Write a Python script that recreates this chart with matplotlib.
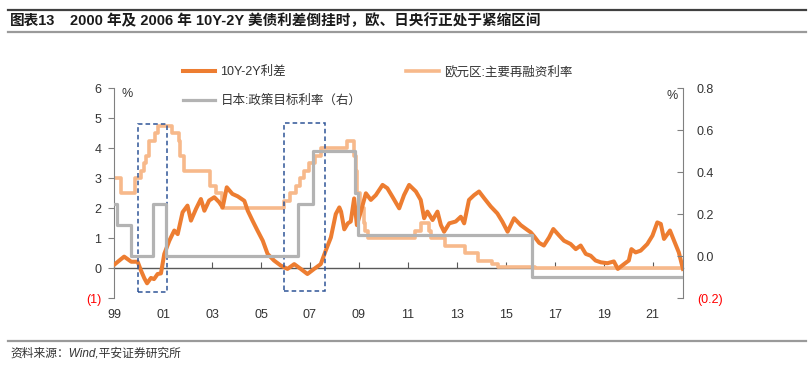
import pandas as pd
import matplotlib
matplotlib.use("Agg")
import matplotlib.pyplot as plt
import matplotlib.dates as mdates
from matplotlib.lines import Line2D
from matplotlib.patches import Rectangle

plt.rcParams['font.family'] = ['Liberation Sans', 'Noto Sans CJK SC']
plt.rcParams['axes.unicode_minus'] = False

# 美债 10Y-2Y 利差 (左轴, %)
spread_dates = [
    "1999-01-15", "1999-04-01", "1999-06-01", "1999-09-15", "1999-12-20",
    "2000-02-05", "2000-03-28", "2000-05-08", "2000-07-05", "2000-08-20",
    "2000-10-12", "2000-12-01", "2001-01-20", "2001-04-05", "2001-06-18",
    "2001-08-08", "2001-10-20", "2002-01-01", "2002-02-22", "2002-05-08",
    "2002-07-20", "2002-09-10", "2002-11-20", "2003-02-05", "2003-04-20",
    "2003-06-10", "2003-08-10", "2003-11-02", "2004-01-20", "2004-04-28",
    "2004-06-18", "2004-08-28", "2004-11-10", "2005-01-28", "2005-04-10",
    "2005-07-15", "2005-10-25", "2006-02-01", "2006-05-12", "2006-08-18",
    "2006-11-25", "2007-03-05", "2007-06-12", "2007-08-25", "2007-11-10",
    "2008-01-22", "2008-03-15", "2008-04-10", "2008-05-28", "2008-07-20",
    "2008-09-01", "2008-10-22", "2008-12-02", "2009-01-30", "2009-04-15",
    "2009-06-28", "2009-09-10", "2009-12-20", "2010-03-01", "2010-05-15",
    "2010-08-25", "2010-11-05", "2011-01-20", "2011-05-01", "2011-07-12",
    "2011-09-01", "2011-10-20", "2012-01-05", "2012-03-18", "2012-05-08",
    "2012-06-25", "2012-09-10", "2012-12-15", "2013-03-01", "2013-04-20",
    "2013-07-01", "2013-09-15", "2013-11-28", "2014-02-15", "2014-05-22",
    "2014-08-28", "2014-11-10", "2015-01-28", "2015-05-05", "2015-08-12",
    "2015-11-18", "2016-01-08", "2016-03-01", "2016-05-12", "2016-07-22",
    "2016-10-08", "2016-12-10", "2017-03-08", "2017-05-18", "2017-08-25",
    "2017-11-10", "2018-01-22", "2018-04-08", "2018-06-20", "2018-09-01",
    "2018-11-18", "2019-02-25", "2019-06-01", "2019-07-30", "2019-10-30",
    "2020-01-10", "2020-02-18", "2020-04-20", "2020-07-05", "2020-10-12",
    "2020-12-28", "2021-03-10", "2021-05-01", "2021-06-18", "2021-09-15",
    "2021-11-15", "2022-01-25", "2022-03-28",
]
spread_values = [
    0.14, 0.28, 0.39, 0.22, 0.22,
    -0.06, -0.33, -0.50, -0.32, -0.36,
    -0.19, -0.17, 0.48, 0.92, 1.26,
    1.14, 1.87, 2.09, 1.59, 1.98,
    2.31, 1.92, 2.26, 2.37, 2.20,
    2.03, 2.70, 2.48, 2.40, 2.25,
    1.92, 1.59, 1.26, 0.92, 0.48,
    0.26, 0.09, -0.02, 0.14, -0.02,
    -0.19, -0.02, 0.14, 0.59, 1.03,
    1.81, 2.03, 1.89, 1.30, 1.50,
    1.56, 2.33, 1.44, 1.89, 2.50,
    2.28, 2.44, 2.78, 2.67, 2.39,
    2.00, 2.44, 2.78, 2.56, 2.28,
    1.67, 1.89, 1.61, 1.89, 1.44,
    1.22, 1.50, 1.56, 1.72, 1.50,
    2.28, 2.44, 2.56, 2.33, 2.06,
    1.83, 1.56, 1.22, 1.67, 1.44,
    1.28, 1.20, 1.06, 0.85, 0.76,
    1.03, 1.31, 1.09, 0.92, 0.81,
    0.64, 0.76, 0.48, 0.42, 0.26,
    0.20, 0.17, 0.23, -0.02, 0.14,
    0.26, 0.64, 0.53, 0.59, 0.81,
    1.09, 1.53, 1.48, 0.98, 1.26,
    0.92, 0.53, -0.02,
]

# 欧元区主要再融资利率 (左轴, %)
euro_dates = [
    "1999-01-01", "1999-04-09", "1999-11-05", "2000-02-04", "2000-03-17",
    "2000-04-28", "2000-06-09", "2000-09-06", "2000-10-11", "2001-05-11",
    "2001-08-31", "2001-09-18", "2001-11-09", "2002-12-06", "2003-03-07",
    "2003-06-06", "2005-12-06", "2006-03-08", "2006-06-15", "2006-08-09",
    "2006-10-11", "2006-12-13", "2007-03-14", "2007-06-13", "2008-07-09",
    "2008-10-15", "2008-11-12", "2008-12-10", "2009-01-21", "2009-03-11",
    "2009-04-08", "2009-05-13", "2011-04-13", "2011-07-13", "2011-11-09",
    "2011-12-14", "2012-07-11", "2013-05-08", "2013-11-13", "2014-06-11",
    "2014-09-10", "2016-03-16", "2022-03-28",
]
euro_values = [
    3.0, 2.5, 3.0, 3.25, 3.5,
    3.75, 4.25, 4.5, 4.75, 4.5,
    4.25, 3.75, 3.25, 2.75, 2.5,
    2.0, 2.25, 2.5, 2.75, 3.0,
    3.25, 3.5, 3.75, 4.0, 4.25,
    3.75, 3.25, 2.5, 2.0, 1.5,
    1.25, 1.0, 1.25, 1.5, 1.25,
    1.0, 0.75, 0.5, 0.25, 0.15,
    0.05, 0.0, 0.0,
]

# 日本政策目标利率 (右轴, %)
japan_dates = [
    "1999-01-01", "1999-02-20", "1999-09-10", "2000-08-11", "2001-02-15",
    "2006-07-14", "2007-02-21", "2008-10-31", "2008-12-19", "2016-01-29",
    "2022-03-28",
]
japan_values = [
    0.25, 0.15, 0.0, 0.25, 0.0,
    0.25, 0.5, 0.3, 0.1, -0.1,
    -0.1,
]

# 虚线框: (起, 止, 下沿, 上沿)
boxes = [
    ("2000-01-01", "2001-02-25", -0.78, 4.82),
    ("2005-12-15", "2007-08-15", -0.76, 4.86),
]

year_ticks = list(range(1999, 2022, 2))
left_ticks = [-1, 0, 1, 2, 3, 4, 5, 6]
left_labels = ["(1)", "0", "1", "2", "3", "4", "5", "6"]
right_ticks = [-0.2, 0.0, 0.2, 0.4, 0.6, 0.8]
right_labels = ["(0.2)", "0.0", "0.2", "0.4", "0.6", "0.8"]

c_spread = "#ED7D31"
c_euro = "#F7B98B"
c_japan = "#B3B3B3"
c_text = "#333333"
c_spine = "#808080"

fig = plt.figure(figsize=(8.12, 3.76), dpi=100)
ax = fig.add_axes([0.1404, 0.2066, 0.7007, 0.5585])
ax2 = ax.twinx()

l_euro, = ax.plot(pd.to_datetime(euro_dates), euro_values, drawstyle="steps-post",
                  color=c_euro, lw=2.6, zorder=2)
l_spread, = ax.plot(pd.to_datetime(spread_dates), spread_values, color=c_spread,
                    lw=2.9, zorder=3)
l_japan, = ax2.plot(pd.to_datetime(japan_dates), japan_values, drawstyle="steps-post",
                    color=c_japan, lw=2.3, zorder=3)

for start, end, lo, hi in boxes:
    x0 = mdates.date2num(pd.Timestamp(start))
    x1 = mdates.date2num(pd.Timestamp(end))
    ax.add_patch(Rectangle((x0, lo), x1 - x0, hi - lo, fill=False,
                           edgecolor="#2F5597", lw=1.1, ls=(0, (3, 2)), zorder=4))

ax.set_xlim(pd.Timestamp("1999-01-01"), pd.Timestamp("2022-03-28"))
ax.set_ylim(-1, 6)
ax2.set_ylim(-0.2, 0.8)

tick_pos = [mdates.date2num(pd.Timestamp(f"{y}-01-01")) for y in year_ticks]
tick_lab = [f"{y % 100:02d}" for y in year_ticks]

# 标签放在底部, 零线与刻度放在 0 处
ax.set_xticks(tick_pos)
ax.set_xticklabels(tick_lab)
ax.tick_params(axis="x", length=0, pad=8, labelsize=9, colors=c_text)
zero_axis = ax.secondary_xaxis(1 / 7)
zero_axis.set_xticks(tick_pos)
zero_axis.tick_params(axis="x", direction="in", length=4, labelbottom=False,
                      color="#595959", width=0.8)
zero_axis.spines["bottom"].set_color("#595959")
zero_axis.spines["bottom"].set_linewidth(1.0)

ax.set_yticks(left_ticks)
ax.set_yticklabels(left_labels)
ax.tick_params(axis="y", direction="out", length=4, width=0.8, color=c_spine,
               labelsize=9, labelcolor=c_text, pad=5)
ax.get_yticklabels()[0].set_color("#FF0000")

ax2.set_yticks(right_ticks)
ax2.set_yticklabels(right_labels)
ax2.tick_params(axis="y", direction="in", length=4, width=0.8, color=c_spine,
                labelsize=9, labelcolor=c_text, pad=10)
ax2.get_yticklabels()[0].set_color("#FF0000")

for s in ["top", "bottom", "right"]:
    ax.spines[s].set_visible(False)
for s in ["top", "bottom", "left"]:
    ax2.spines[s].set_visible(False)
ax.spines["left"].set_color(c_spine)
ax2.spines["right"].set_color(c_spine)

ax.text(0.023, 0.975, "%", transform=ax.transAxes, ha="center", va="center",
        fontsize=9, color=c_text)
ax2.text(0.981, 0.965, "%", transform=ax.transAxes, ha="center", va="center",
         fontsize=9, color=c_text)

fig.legend(handles=[l_spread, l_japan, l_euro],
           labels=["10Y-2Y利差", "日本:政策目标利率（右）", "欧元区:主要再融资利率"],
           ncol=2, loc="upper left", bbox_to_anchor=(183 / 812, 1 - 66 / 376),
           frameon=False, fontsize=9, handlelength=2.6, handletextpad=0.4,
           columnspacing=3.6, labelspacing=1.3, borderpad=0, borderaxespad=0,
           labelcolor=c_text)

# 标题与来源
fig.add_artist(Line2D([0.01, 0.993], [1 - 10 / 376] * 2, transform=fig.transFigure,
                      color="#404040", lw=1.6))
fig.add_artist(Line2D([0.01, 0.993], [1 - 32 / 376] * 2, transform=fig.transFigure,
                      color="#9A9A9A", lw=1.6))
fig.add_artist(Line2D([0.01, 0.993], [1 - 341 / 376] * 2, transform=fig.transFigure,
                      color="#9A9A9A", lw=1.6))
fig.text(10 / 812, 1 - 21 / 376, "图表13", fontsize=10.5, fontweight="bold",
         color="#1A1A1A", va="center", ha="left")
fig.text(70 / 812, 1 - 21 / 376,
         "2000 年及 2006 年 10Y-2Y 美债利差倒挂时，欧、日央行正处于紧缩区间",
         fontsize=10.5, fontweight="bold", color="#1A1A1A", va="center", ha="left")
fig.text(10 / 812, 1 - 353 / 376, "资料来源：Wind,平安证券研究所", fontsize=8.5,
         style="italic", color="#333333", va="center", ha="left")

fig.savefig("out.png", dpi=100)
